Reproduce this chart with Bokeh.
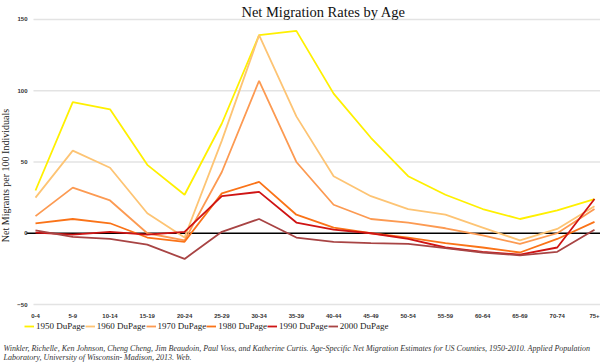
import math
from bokeh.plotting import figure
from bokeh.models import (FixedTicker, Legend, LegendItem, Label, Range1d)
from bokeh.embed import file_html
from bokeh.resources import INLINE

ages = ["0-4", "5-9", "10-14", "15-19", "20-24", "25-29", "30-34", "35-39",
        "40-44", "45-49", "50-54", "55-59", "60-64", "65-69", "70-74", "75+"]
y1950 = [30, 92, 87, 48, 27, 77, 139, 142, 98, 67, 40, 27, 17, 10, 16, 24]
y1960 = [25, 58, 46, 14, -3, 65, 139, 82, 40, 26, 17, 13, 4, -5, 3, 19]
y1970 = [12, 32, 23, 0, -5, 43, 107, 50, 20, 10, 7.5, 3.5, -1.5, -7.5, 0, 17]
y1980 = [7, 10, 7, -3, -6, 28, 36, 13, 4, 0, -3, -7, -10, -13.5, -4, 8]
y1990 = [0.5, -1, 1, -1, 1, 26, 29, 7.5, 2.5, 0, -4, -10, -13, -15, -10, 24]
y2000 = [2, -2.5, -4, -8, -18, 1, 10, -3, -6, -7, -7.5, -10.5, -13.5, -15.5, -13, 2.5]
series_names = ["1950 DuPage", "1960 DuPage", "1970 DuPage", "1980 DuPage", "1990 DuPage", "2000 DuPage"]
series_vals = [y1950, y1960, y1970, y1980, y1990, y2000]
colors = ["#fff000", "#fdc474", "#fc9a52", "#fa7318", "#cf1414", "#a84444"]
y_ticks = [-50, 0, 50, 100, 150]
grid_vals = [-50, 50, 100, 150]

title_text = "Net Migration Rates by Age"
y_label_text = "Net Migrants per 100 Individuals"
cit1 = ("Winkler, Richelle, Ken Johnson, Cheng Cheng, Jim Beaudoin, Paul Voss, and Katherine Curtis. "
        "Age-Specific Net Migration Estimates for US Counties, 1950-2010. Applied Population")
cit2 = "Laboratory, University of Wisconsin- Madison, 2013. Web."

xs = list(range(len(ages)))
X0, X1 = -0.939, 15.161
Y0, Y1 = -90.7, 163.33

p = figure(width=600, height=362, output_backend="svg", toolbar_location=None,
           x_range=Range1d(X0, X1), y_range=Range1d(Y0, Y1),
           min_border_left=0, min_border_right=0, min_border_top=0, min_border_bottom=0)
p.outline_line_color = None
p.background_fill_color = "white"
p.border_fill_color = "white"
p.xgrid.grid_line_color = None
p.ygrid.grid_line_color = None

# axes drawn inside the frame
p.xaxis.ticker = FixedTicker(ticks=xs)
p.xaxis.major_label_overrides = {i: a for i, a in enumerate(ages)}
p.xaxis.fixed_location = -51.4
p.yaxis.ticker = FixedTicker(ticks=y_ticks)
p.yaxis.fixed_location = 0.0
for ax in (p.xaxis[0], p.yaxis[0]):
    ax.axis_line_color = None
    ax.major_tick_line_color = None
    ax.minor_tick_line_color = None
    ax.major_label_text_font = "Liberation Sans"
    ax.major_label_text_font_size = "6px"
    ax.major_label_text_font_style = "bold"
    ax.major_label_text_color = "#333333"
    ax.major_label_standoff = 2

# light grid lines and zero line
p.segment(x0=[-0.054] * len(grid_vals), y0=grid_vals, x1=[X1] * len(grid_vals), y1=grid_vals,
          line_color="#e3e3e3", line_width=1.5)
p.segment(x0=[-0.241], y0=[0], x1=[X1], y1=[0], line_color="black", line_width=1.5)

items = []
for name, vals, c in zip(series_names, series_vals, colors):
    r = p.line(xs, vals, line_color=c, line_width=1.8)
    items.append(LegendItem(label=name, renderers=[r]))

legend = Legend(items=items, orientation="horizontal", location=(24, 31),
                label_text_font="Liberation Serif", label_text_font_size="9px",
                label_text_color="#222222", glyph_width=10, glyph_height=10,
                label_standoff=2, spacing=0, padding=0, margin=0,
                border_line_color=None, background_fill_alpha=0)
p.add_layout(legend)

p.add_layout(Label(x=7.73, y=155.3, text=title_text, text_font="Liberation Serif",
                   text_font_size="14.5px", text_color="#111111",
                   text_align="center", text_baseline="alphabetic"))
p.add_layout(Label(x=-0.805, y=40.5, text=y_label_text, angle=math.pi / 2,
                   text_font="Liberation Serif", text_font_size="10px", text_color="#222222",
                   text_align="center", text_baseline="middle"))
for t, yy in ((cit1, -80.9), (cit2, -87.2)):
    p.add_layout(Label(x=-0.86, y=yy, text=t,
                       text_font="Liberation Serif", text_font_size="8px",
                       text_font_style="italic", text_color="#333333",
                       text_align="left", text_baseline="alphabetic"))

open("out.html", "w").write(file_html(p, INLINE))
